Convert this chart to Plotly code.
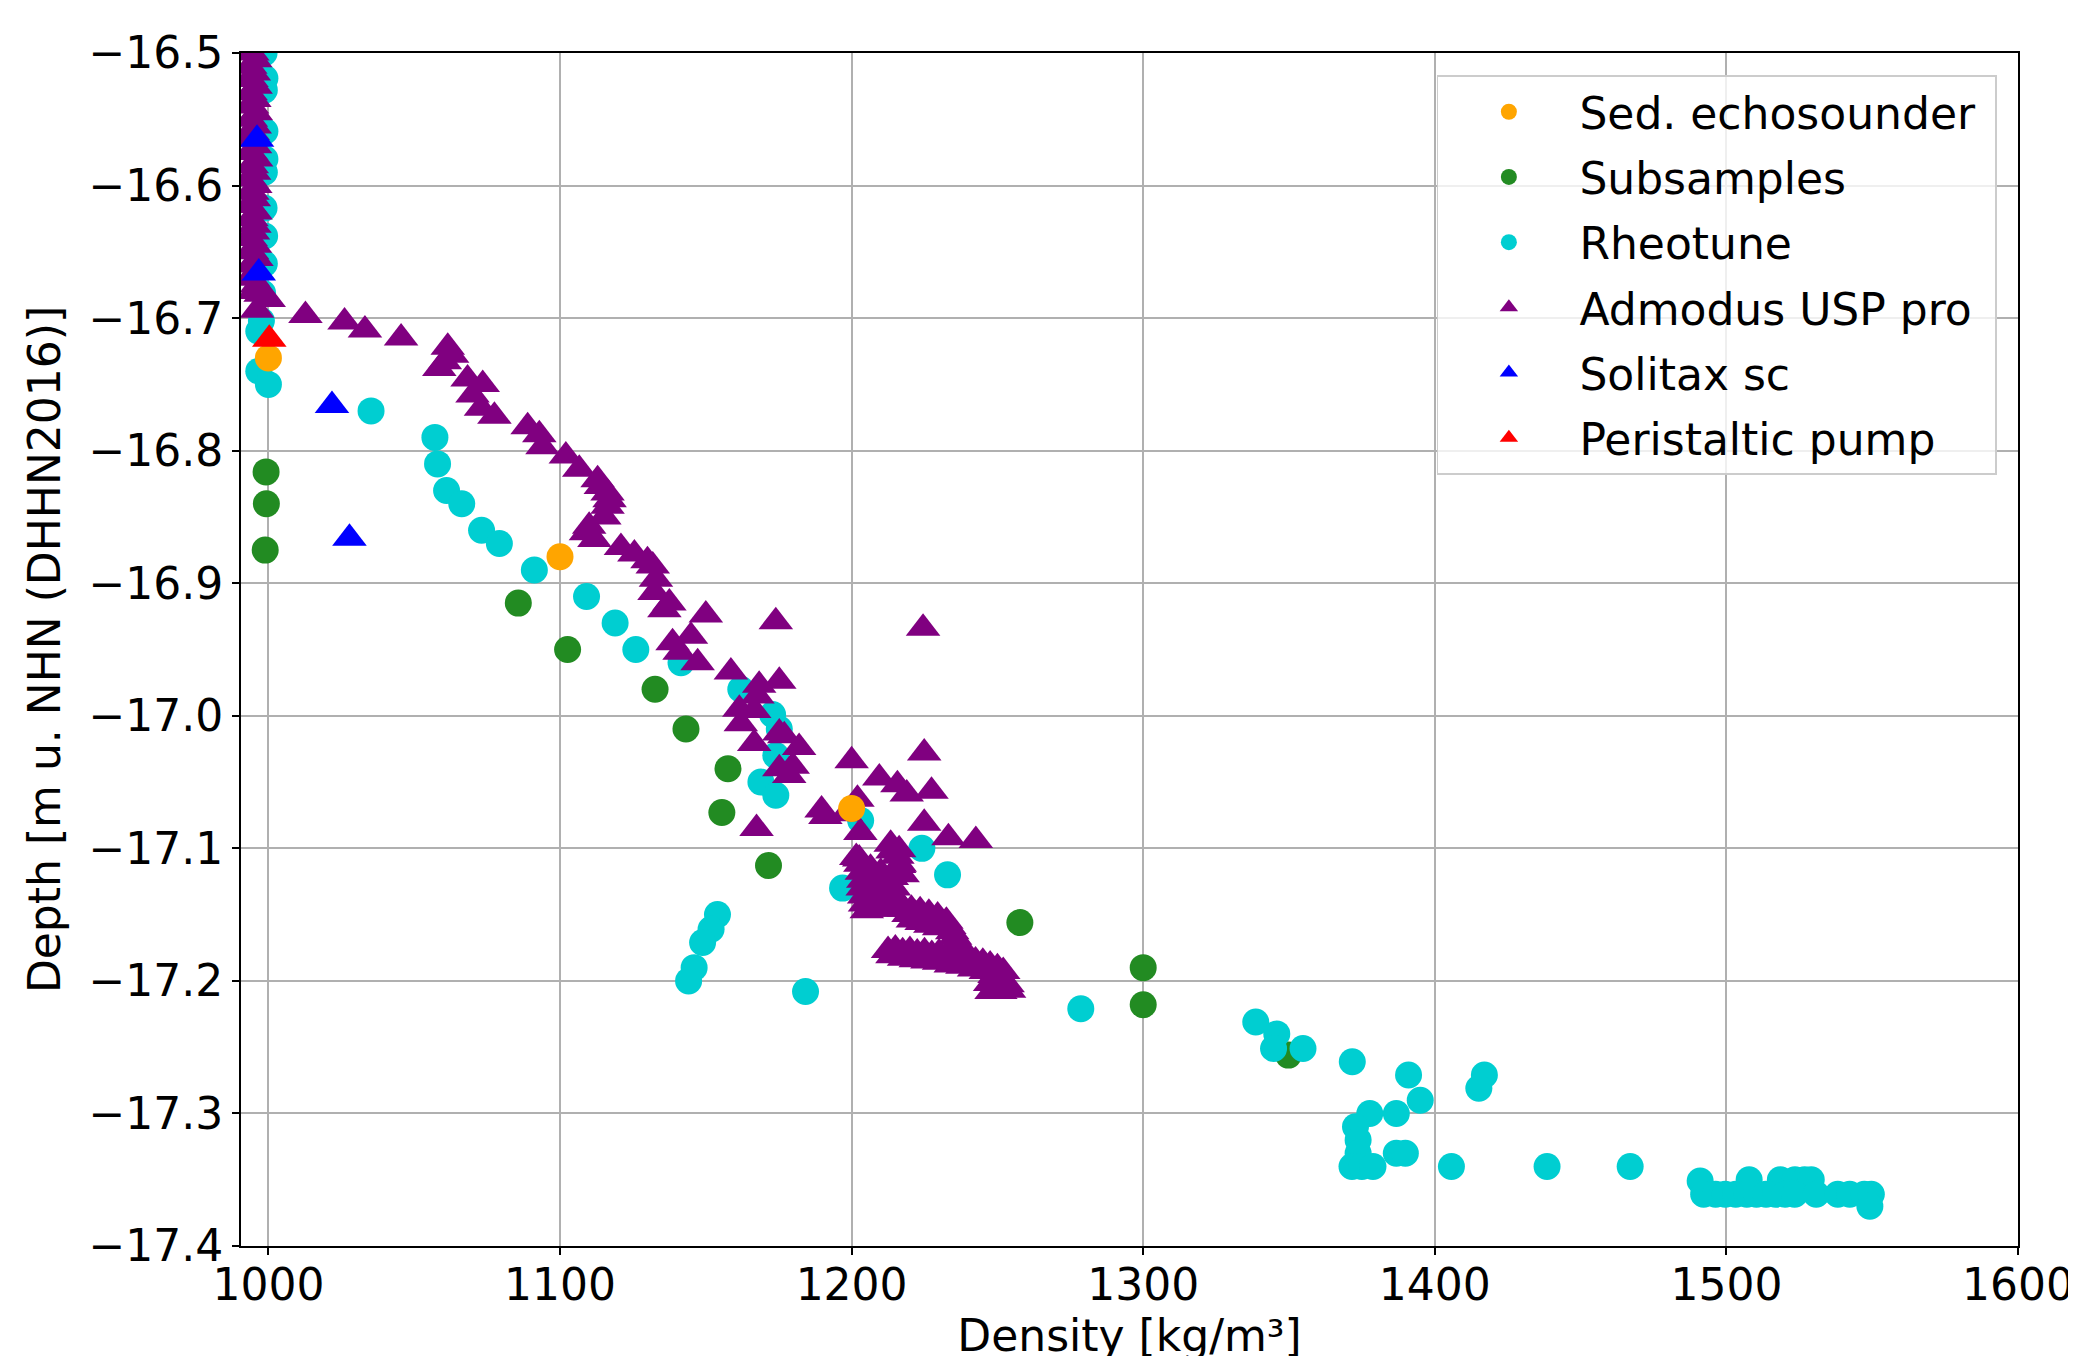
import plotly.graph_objects as go

# ---------------- data ----------------
sed_x = [1000.0, 1100.0, 1200.0]
sed_y = [-16.730, -16.880, -17.070]

sub_x = [999.2, 999.3, 998.9, 1085.7, 1102.6, 1132.6, 1143.2, 1157.6, 1155.5, 1171.5,
         1257.7, 1300.0, 1300.0, 1349.8]
sub_y = [-16.816, -16.840, -16.875, -16.915, -16.950, -16.980, -17.010, -17.040, -17.073, -17.113,
         -17.156, -17.190, -17.218, -17.256]

rheo_x = [998.5, 998.8, 998.6, 998.8, 998.8, 998.6, 998.5, 998.7, 998.6, 998.0, 997.6, 996.7, 996.7, 1000.0,
          1035.2, 1057.1, 1058.0, 1061.1, 1066.3, 1073.1, 1079.2, 1091.2, 1109.1, 1118.9, 1126.0,
          1141.5, 1162.0, 1172.9, 1175.2, 1174.0, 1168.9, 1174.0, 1203.1, 1224.1, 1232.9, 1196.9,
          1154.0, 1151.8, 1148.9, 1146.0, 1144.1, 1184.2, 1278.6, 1338.6, 1345.8, 1344.7, 1354.8,
          1371.7, 1391.0, 1395.0, 1417.0, 1415.1, 1377.7, 1386.8, 1372.8, 1373.7, 1373.7, 1386.8,
          1389.9, 1371.6, 1375.0, 1378.8, 1405.7, 1438.5, 1467.0, 1491.0, 1507.8, 1518.5, 1523.5,
          1526.8, 1529.1, 1492.2, 1496.3, 1499.6, 1503.2, 1507.0, 1510.3, 1513.6, 1516.9, 1520.1,
          1523.4, 1530.8, 1538.2, 1542.3, 1547.3, 1549.7, 1549.2]
rheo_y = [-16.500, -16.519, -16.528, -16.559, -16.580, -16.590, -16.617, -16.638, -16.659, -16.681,
          -16.702, -16.710, -16.740, -16.750,
          -16.770, -16.790, -16.810, -16.830, -16.840, -16.860, -16.870, -16.890, -16.910, -16.930,
          -16.950, -16.960, -16.980, -16.999, -17.010, -17.030, -17.050, -17.060, -17.079, -17.100,
          -17.120, -17.130, -17.150, -17.161, -17.171, -17.190, -17.200, -17.208, -17.221, -17.231,
          -17.240, -17.251, -17.251, -17.261, -17.271, -17.290, -17.271, -17.281, -17.300, -17.300,
          -17.310, -17.320, -17.330, -17.330, -17.330, -17.340, -17.340, -17.340, -17.340, -17.340,
          -17.340, -17.351, -17.350, -17.350, -17.350, -17.350, -17.350, -17.361, -17.361, -17.361,
          -17.361, -17.361, -17.361, -17.361, -17.361, -17.361, -17.361, -17.361, -17.361, -17.361,
          -17.361, -17.361, -17.370]

adm_x = [994.5, 995.5, 993.8, 995.0, 994.2, 995.6, 993.9, 995.2, 994.4, 995.7,
         994.0, 995.3, 994.6, 993.8, 995.4, 994.1, 995.8, 994.3, 995.1, 993.9,
         995.5, 994.5, 995.0, 993.7, 995.6, 994.2, 995.2, 994.7, 993.9, 995.4,
         994.4, 995.9, 994.0, 995.3, 994.6, 996.0, 995.0, 997.3, 1000.1, 996.1,
         1012.7, 1026.1, 1033.1, 1045.5, 1061.5, 1063.0, 1060.5, 1058.6, 1068.3, 1073.5,
         1070.0, 1072.9, 1077.5, 1088.9, 1092.9, 1094.0, 1102.0, 1106.6, 1112.9, 1114.0,
         1116.3, 1117.0, 1116.3, 1115.2, 1110.0, 1108.9, 1111.8, 1120.9, 1125.5, 1130.0,
         1131.8, 1132.9, 1132.4, 1137.5, 1135.8, 1150.0, 1174.0, 1224.5, 1144.9, 1138.6,
         1141.0, 1147.2, 1158.6, 1168.3, 1175.2, 1167.7, 1161.5, 1166.6, 1162.0, 1175.2,
         1166.6, 1176.9, 1182.0, 1179.8, 1175.2, 1178.6, 1200.0, 1167.4, 1189.7, 1191.0,
         1202.0, 1203.0, 1198.0, 1209.5, 1215.7, 1218.9, 1224.9, 1227.4, 1224.9, 1233.2,
         1242.6, 1213.4, 1216.3, 1201.6, 1216.3, 1202.6, 1214.0, 1215.7,
         1203.0, 1203.5, 1204.0, 1203.8, 1204.3, 1204.6, 1205.2, 1206.5, 1207.0, 1207.8,
         1208.2, 1208.8, 1209.5, 1210.0, 1210.8, 1211.5, 1212.0, 1212.6, 1213.8, 1214.5,
         1215.0, 1215.8, 1216.5, 1217.5, 1218.0, 1219.5, 1220.5, 1222.0, 1223.5, 1225.0,
         1226.5, 1228.0, 1229.5, 1231.0, 1232.5, 1233.5, 1234.5, 1235.5, 1236.5, 1221.0,
         1224.0, 1227.0, 1230.0,
         1212.5, 1215.0, 1217.5, 1220.0, 1222.5, 1225.0, 1227.5, 1230.0, 1232.5, 1235.0,
         1237.5, 1240.0, 1242.5, 1245.0, 1247.5, 1250.0, 1252.0, 1214.0, 1218.0, 1222.0,
         1226.0, 1230.0, 1234.0, 1238.0, 1242.0, 1246.0, 1249.0, 1251.5, 1247.5, 1250.5,
         1253.5, 1248.0, 1251.0, 1254.0]
adm_y = [-16.500, -16.505, -16.510, -16.515, -16.520, -16.525, -16.530, -16.535, -16.540, -16.545,
         -16.550, -16.555, -16.560, -16.565, -16.570, -16.575, -16.580, -16.585, -16.590, -16.595,
         -16.600, -16.605, -16.610, -16.615, -16.620, -16.625, -16.630, -16.635, -16.640, -16.645,
         -16.650, -16.655, -16.660, -16.665, -16.670, -16.675, -16.680, -16.682, -16.686, -16.694,
         -16.698, -16.703, -16.709, -16.715, -16.722, -16.728, -16.733, -16.738, -16.746, -16.750,
         -16.758, -16.768, -16.774, -16.782, -16.788, -16.797, -16.804, -16.814, -16.822, -16.827,
         -16.832, -16.837, -16.842, -16.850, -16.857, -16.862, -16.867, -16.873, -16.878, -16.883,
         -16.887, -16.897, -16.907, -16.915, -16.920, -16.924, -16.929, -16.934, -16.940, -16.945,
         -16.952, -16.960, -16.967, -16.977, -16.974, -16.985, -16.995, -16.996, -17.006, -17.013,
         -17.021, -17.015, -17.024, -17.038, -17.040, -17.045, -17.034, -17.085, -17.071, -17.076,
         -17.063, -17.088, -17.074, -17.047, -17.052, -17.059, -17.028, -17.057, -17.081, -17.092,
         -17.094, -17.097, -17.101, -17.107, -17.113, -17.108, -17.102, -17.106,
         -17.112, -17.118, -17.124, -17.130, -17.136, -17.142, -17.147, -17.115, -17.121, -17.128,
         -17.135, -17.141, -17.146, -17.118, -17.125, -17.132, -17.139, -17.146, -17.122, -17.130,
         -17.137, -17.144, -17.112, -17.120, -17.146, -17.150, -17.146, -17.150, -17.147, -17.152,
         -17.149, -17.154, -17.151, -17.156, -17.155, -17.159, -17.163, -17.167, -17.171, -17.154,
         -17.156, -17.158, -17.160,
         -17.177, -17.176, -17.178, -17.177, -17.179, -17.178, -17.180, -17.179, -17.181, -17.180,
         -17.182, -17.183, -17.185, -17.186, -17.188, -17.190, -17.193, -17.181, -17.183, -17.184,
         -17.185, -17.186, -17.188, -17.189, -17.191, -17.193, -17.196, -17.199, -17.202, -17.204,
         -17.203, -17.208, -17.208, -17.207]

sol_x = [996.1, 996.7, 1021.8, 1027.8]
sol_y = [-16.565, -16.666, -16.766, -16.866]

pump_x = [1000.3]
pump_y = [-16.716]

x_ticks = [1000, 1100, 1200, 1300, 1400, 1500, 1600]
y_ticks = [-16.5, -16.6, -16.7, -16.8, -16.9, -17.0, -17.1, -17.2, -17.3, -17.4]

# ---------------- figure ----------------
FONT = "DejaVu Sans"
FS = 44
CIRC = 27
TRI = 30

fig = go.Figure()
# drawing order: subsamples, rheotune, admodus, sed, solitax, pump ; legend order via legendrank
specs = [
    (sub_x, sub_y, "Subsamples", 2, "circle", CIRC, "#228B22"),
    (rheo_x, rheo_y, "Rheotune", 3, "circle", CIRC, "#00CED1"),
    (adm_x, adm_y, "Admodus USP pro", 4, "triangle-up", TRI, "#800080"),
    (sed_x, sed_y, "Sed. echosounder\u00a0", 1, "circle", CIRC, "#FFA500"),
    (sol_x, sol_y, "Solitax sc", 5, "triangle-up", TRI, "#0000FF"),
    (pump_x, pump_y, "Peristaltic pump", 6, "triangle-up", TRI, "#FF0000"),
]
for xs, ys, name, rank, sym, size, col in specs:
    fig.add_trace(go.Scatter(x=xs, y=ys, mode="markers", name=name, legendrank=rank,
                             legendgroup=name,
                             marker=dict(symbol=sym, size=size, color=col, line_width=0)))

axis_common = dict(
    showline=True, linecolor="black", linewidth=1.7, mirror=True,
    showgrid=True, gridcolor="#b0b0b0", gridwidth=1.7,
    ticks="outside", ticklen=7, tickwidth=1.7, tickcolor="black",
    tickfont=dict(family=FONT, size=FS, color="black"),
    zeroline=False, automargin=False,
)

fig.update_layout(
    width=2076, height=1356,
    margin=dict(l=233, r=66, t=45, b=118),
    paper_bgcolor="white", plot_bgcolor="white",
    font=dict(family=FONT, color="black", size=FS),
    showlegend=True,
    legend=dict(
        x=0.988, y=0.9816, xanchor="right", yanchor="top",
        bgcolor="rgba(255,255,255,0.8)", bordercolor="#cccccc", borderwidth=1.7,
        font=dict(family=FONT, size=FS, color="black"),
        itemwidth=131, tracegroupgap=5,
    ),
    xaxis=dict(range=[990.6, 1600], tickmode="array", tickvals=x_ticks,
               ticktext=[str(v) for v in x_ticks], ticklabelstandoff=-8,
               title=dict(text="Density [kg/m³]", font=dict(family=FONT, size=FS), standoff=10),
               **axis_common),
    yaxis=dict(range=[-17.4, -16.5], tickmode="array", tickvals=y_ticks,
               ticktext=["\u2212" + f"{abs(v):.1f}" for v in y_ticks],
               title=dict(text="Depth [m u. NHN (DHHN2016)]", font=dict(family=FONT, size=FS), standoff=14),
               **axis_common),
)

fig.write_html("out.html")
